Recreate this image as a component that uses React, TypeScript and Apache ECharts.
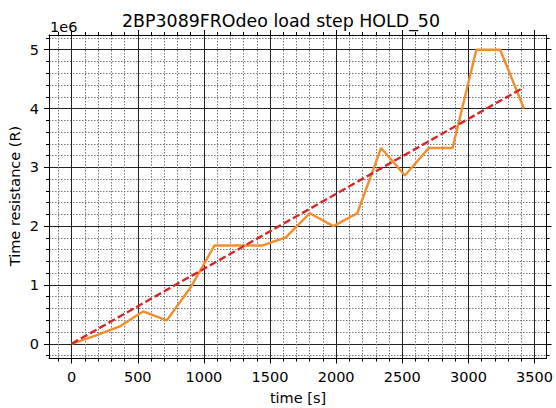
import React, { useEffect, useRef } from "react";
import * as echarts from "echarts";

const times = [0, 180, 360, 540, 720, 900, 1080, 1260, 1440, 1620, 1800, 1980, 2160, 2340, 2520, 2700, 2880, 3060, 3240, 3420];
const resistance = [0, 0.14e6, 0.29e6, 0.55e6, 0.4e6, 0.96e6, 1.67e6, 1.67e6, 1.67e6, 1.81e6, 2.22e6, 2.0e6, 2.22e6, 3.33e6, 2.86e6, 3.33e6, 3.33e6, 5.0e6, 5.0e6, 4.0e6];
const fitTimes = [0, 3420];
const fitValues = [0, 4.36e6];
const xTickValues = [0, 500, 1000, 1500, 2000, 2500, 3000, 3500];
const yTickValues = [0, 1e6, 2e6, 3e6, 4e6, 5e6];

const FONT = "DejaVu Sans";

export default function App() {
  const ref = useRef<HTMLDivElement>(null);
  useEffect(() => {
    document.body.style.margin = "0";
    const chart = echarts.init(ref.current!, null, { renderer: "svg" });
    const xMin = -171, xMax = 3591, yMin = -0.25e6, yMax = 5.25e6;
    const tickLine = { color: "#000", width: 1 };
    const baseX = {
      type: "value" as const,
      min: xMin,
      max: xMax,
      splitNumber: 7,
      axisLine: { show: true, onZero: false, lineStyle: { color: "#000", width: 1 } },
      axisTick: { show: true, inside: false, length: 5, lineStyle: tickLine, customValues: xTickValues },
      minorTick: { show: true, splitNumber: 5, length: 3, lineStyle: tickLine },
    };
    const baseY = {
      type: "value" as const,
      min: yMin,
      max: yMax,
      splitNumber: 5,
      axisLine: { show: true, onZero: false, lineStyle: { color: "#000", width: 1 } },
      axisTick: { show: true, inside: false, length: 5, lineStyle: tickLine, customValues: yTickValues },
      minorTick: { show: true, splitNumber: 5, length: 3, lineStyle: tickLine },
    };
    chart.setOption({
      animation: false,
      backgroundColor: "#fff",
      textStyle: { fontFamily: FONT },
      grid: { left: 49, right: 7, top: 35, bottom: 49.5, containLabel: false },
      xAxis: [
        {
          ...baseX,
          position: "bottom",
          axisLabel: {
            show: true,
            customValues: xTickValues,
            margin: 11,
            fontSize: 14.5,
            color: "#000",
            fontFamily: FONT,
            formatter: (v: number) => String(Math.round(v)),
          },
          splitLine: { show: true, lineStyle: { color: "#222", width: 1 } },
          minorSplitLine: { show: true, lineStyle: { color: "#777", width: 1, type: [1.5, 1.5] } },
        },
        {
          ...baseX,
          position: "top",
          axisLabel: { show: false },
          splitLine: { show: false },
          minorSplitLine: { show: false },
        },
      ],
      yAxis: [
        {
          ...baseY,
          position: "left",
          axisLabel: {
            show: true,
            customValues: yTickValues,
            margin: 10,
            fontSize: 14.5,
            color: "#000",
            fontFamily: FONT,
            formatter: (v: number) => String(Math.round(v / 1e6)),
          },
          splitLine: { show: true, lineStyle: { color: "#222", width: 1 } },
          minorSplitLine: { show: true, lineStyle: { color: "#777", width: 1, type: [1.5, 1.5] } },
        },
        {
          ...baseY,
          position: "right",
          axisLabel: { show: false },
          splitLine: { show: false },
          minorSplitLine: { show: false },
        },
      ],
      graphic: [
        {
          type: "text",
          x: 281,
          y: 20.5,
          style: {
            text: "2BP3089FROdeo load step HOLD_50",
            fontFamily: FONT,
            fontSize: 17.4,
            fill: "#000",
            align: "center",
            verticalAlign: "middle",
          },
        },
        {
          type: "text",
          x: 50,
          y: 27,
          style: { text: "1e6", fontFamily: FONT, fontSize: 14.5, fill: "#000", align: "left", verticalAlign: "middle" },
        },
        {
          type: "text",
          x: 298,
          y: 397.5,
          style: { text: "time [s]", fontFamily: FONT, fontSize: 14.5, fill: "#000", align: "center", verticalAlign: "middle" },
        },
        {
          type: "text",
          x: 15,
          y: 196,
          rotation: Math.PI / 2,
          style: {
            text: "Time resistance (R)",
            fontFamily: FONT,
            fontSize: 14.5,
            fill: "#000",
            align: "center",
            verticalAlign: "middle",
          },
        },
      ],
      series: [
        {
          type: "line",
          xAxisIndex: 0,
          yAxisIndex: 0,
          showSymbol: false,
          data: times.map((t, i) => [t, resistance[i]]),
          lineStyle: { color: "#f28e2b", width: 2.4 },
          itemStyle: { color: "#f28e2b" },
        },
        {
          type: "line",
          xAxisIndex: 0,
          yAxisIndex: 0,
          showSymbol: false,
          data: fitTimes.map((t, i) => [t, fitValues[i]]),
          lineStyle: { color: "#d62728", width: 2.4, type: [7.4, 3.2] },
          itemStyle: { color: "#d62728" },
        },
      ],
    });
    return () => chart.dispose();
  }, []);
  return <div ref={ref} style={{ width: 556, height: 408, position: "absolute", left: 0, top: 0 }} />;
}
